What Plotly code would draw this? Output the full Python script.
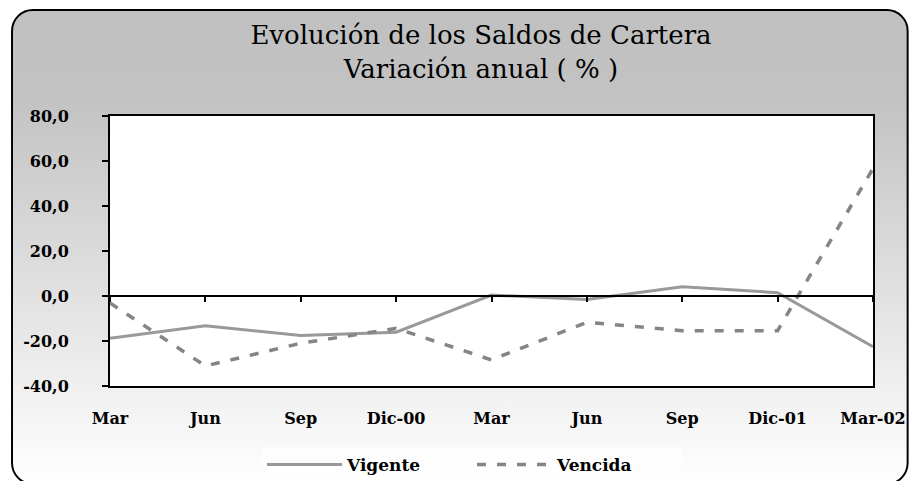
import base64
import plotly.graph_objects as go

# ---- data ----
categories = ["Mar", "Jun", "Sep", "Dic-00", "Mar", "Jun", "Sep", "Dic-01", "Mar-02"]
vigente = [-18.8, -13.2, -17.6, -16.1, 0.4, -1.5, 4.1, 1.5, -22.5]
vencida = [-3.1, -31.1, -21.0, -14.4, -28.4, -11.7, -15.4, -15.4, 56.7]
y_ticks = [-40, -20, 0, 20, 40, 60, 80]
y_tick_labels = ["-40,0", "-20,0", "0,0", "20,0", "40,0", "60,0", "80,0"]
title_text = "Evolución de los Saldos de Cartera<br>Variación anual ( % )"

W, H = 918, 481
ML, MR, MT, MB = 110, 37, 116, 95
PW, PH = W - ML - MR, H - MT - MB

pos = list(range(len(categories)))

svg = (
    f"<svg xmlns='http://www.w3.org/2000/svg' width='{W}' height='{H}' viewBox='0 0 {W} {H}' preserveAspectRatio='none'>"
    "<defs><linearGradient id='g' x1='0' y1='0' x2='0' y2='1'>"
    "<stop offset='0' stop-color='#c0c0c0'/>"
    "<stop offset='0.18' stop-color='#c2c2c2'/>"
    "<stop offset='1' stop-color='#ffffff'/>"
    "</linearGradient></defs>"
    "<rect x='11' y='10' width='905' height='474' rx='21' ry='21' fill='url(#g)' stroke='black' stroke-width='2'/>"
    "</svg>"
)
svg_uri = "data:image/svg+xml;base64," + base64.b64encode(svg.encode()).decode()

tick_font = dict(family="DejaVu Serif", size=16, color="black", weight="bold")

fig = go.Figure()
fig.add_trace(go.Scatter(
    x=pos, y=vigente, name="Vigente", mode="lines",
    line=dict(color="#999999", width=3),
))
fig.add_trace(go.Scatter(
    x=pos, y=vencida, name="Vencida", mode="lines",
    line=dict(color="#858585", width=3.5, dash="9px,11px"),
))
# helper trace to register the zero-crossing axis
fig.add_trace(go.Scatter(x=[0], y=[0], xaxis="x2", mode="lines",
                         showlegend=False, hoverinfo="skip", opacity=0))

fig.update_layout(
    width=W, height=H,
    margin=dict(l=ML, r=MR, t=MT, b=MB, pad=0),
    paper_bgcolor="white",
    plot_bgcolor="white",
    title=dict(
        text=title_text,
        x=481 / W, xref="container", xanchor="center",
        y=1 - 44 / H, yref="container", yanchor="middle",
        font=dict(family="DejaVu Serif", size=26, color="black"),
    ),
    xaxis=dict(
        range=[0, 8], tickvals=pos, ticktext=categories,
        showline=True, mirror=True, linecolor="black", linewidth=2,
        ticks="", showgrid=False, zeroline=False,
        tickfont=tick_font, ticklabelstandoff=17,
    ),
    xaxis2=dict(
        range=[0, 8], tickvals=pos, overlaying="x", anchor="free",
        position=(0 - y_ticks[0]) / (y_ticks[-1] - y_ticks[0]),
        side="bottom", showline=True, linecolor="black", linewidth=1.5,
        ticks="outside", ticklen=5, tickwidth=1.5, tickcolor="black",
        showticklabels=False, showgrid=False, zeroline=False,
    ),
    yaxis=dict(
        range=[y_ticks[0], y_ticks[-1]], tickvals=y_ticks, ticktext=y_tick_labels,
        showline=True, mirror=True, linecolor="black", linewidth=2,
        ticks="outside", ticklen=6, tickwidth=1.5, tickcolor="black",
        showgrid=False, zeroline=False,
        tickfont=tick_font, ticklabelstandoff=30,
    ),
    legend=dict(
        orientation="h",
        x=472 / W, xref="container", xanchor="center",
        y=1 - 465 / H, yref="container", yanchor="middle",
        font=dict(family="DejaVu Serif", size=17, color="black", weight="bold"),
        itemwidth=75, entrywidth=120, bgcolor="rgba(255,255,255,0.6)",
        traceorder="normal",
    ),
    images=[dict(
        source=svg_uri, xref="paper", yref="paper",
        x=-ML / PW, y=1 + MT / PH, sizex=W / PW, sizey=H / PH,
        xanchor="left", yanchor="top", sizing="stretch", layer="below",
    )],
    shapes=[dict(
        type="rect", xref="paper", yref="paper", x0=0, x1=1, y0=0, y1=1,
        fillcolor="white", line=dict(width=0), layer="below",
    )],
    showlegend=True,
)

fig.write_html("out.html", config={"displayModeBar": False},
               post_script="document.body.style.margin='0';")
